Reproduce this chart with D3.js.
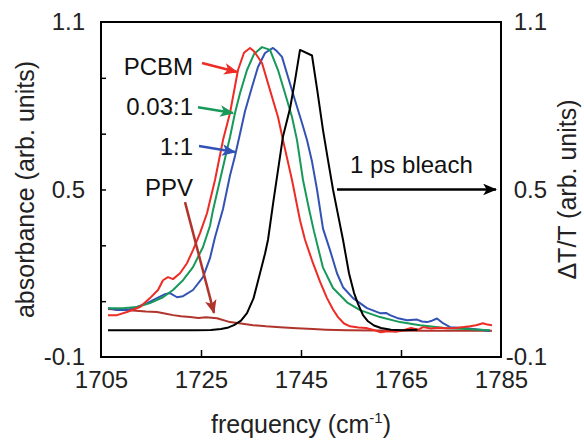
<!DOCTYPE html>
<html>
<head>
<meta charset="utf-8">
<script src="https://d3js.org/d3.v7.min.js"></script>
<style>
  body { margin: 0; background: #fff; }
  text { font-family: "Liberation Sans", Arial, sans-serif; }
</style>
</head>
<body>
<div id="chart"></div>
<script>

// spectra: [frequency (cm-1), value]
var pcbm = [[1706.4,0.05],[1708.2,0.05],[1710.2,0.061],[1712.8,0.079],[1714.8,0.111],[1716.4,0.14],
  [1717.4,0.175],[1718.4,0.186],[1719.4,0.179],[1720.8,0.2],[1722.2,0.236],[1723.4,0.283],[1724.8,0.344],
  [1726.2,0.415],[1727.8,0.534],[1729.4,0.677],[1730.8,0.774],[1732.4,0.928],[1733.6,0.99],[1734.8,1.007],
  [1735.6,0.995],[1737.2,0.953],[1738.8,0.856],[1740.4,0.76],[1741.4,0.677],[1743.2,0.534],[1744.8,0.39],
  [1745.8,0.32],[1747.4,0.236],[1748.8,0.17],[1750.2,0.111],[1751.4,0.07],[1752.4,0.043],[1753.6,0.02],
  [1754.8,0.01],[1756.5,0.006],[1758,0.004],[1759.5,-0.003],[1760.8,-0.011],[1762.5,-0.008],[1764,-0.01],
  [1765.5,-0.004],[1767,0.004],[1768.5,-0.002],[1769.4,0.007],[1771,0.002],[1772.5,0.005],[1774,0.003],
  [1776,0.004],[1778.8,0.01],[1780,0.014],[1781.4,0.021],[1782.3,0.016],[1783.2,0.014]];

var blend003 = [[1706.4,0.075],[1709.4,0.075],[1712.2,0.079],[1714.8,0.093],[1717.4,0.114],[1719.4,0.14],
  [1721.4,0.175],[1723.4,0.222],[1725.4,0.294],[1726.8,0.37],[1727.4,0.426],[1728.8,0.534],[1730.8,0.688],
  [1731.8,0.774],[1732.8,0.845],[1734.2,0.928],[1735.6,0.985],[1737.2,1.01],[1738.8,1.0],[1740.4,0.928],
  [1741.8,0.845],[1743.2,0.76],[1744.2,0.677],[1745.4,0.534],[1746.6,0.43],[1747.6,0.35],[1749.4,0.22],
  [1751.4,0.147],[1754.2,0.096],[1756.8,0.068],[1760.8,0.043],[1764.8,0.025],[1768.8,0.014],[1774.2,0.003],
  [1778,0.0],[1782.8,-0.004]];

var blend11 = [[1706.4,0.075],[1708.2,0.068],[1710.2,0.068],[1712.2,0.079],[1714.2,0.093],[1716.2,0.111],
  [1717.8,0.125],[1718.8,0.129],[1720.2,0.114],[1721.4,0.118],[1723.4,0.14],[1725.4,0.186],[1726.8,0.254],
  [1727.8,0.329],[1729.4,0.43],[1730.8,0.55],[1731.8,0.62],[1732.8,0.7],[1733.8,0.78],[1735.2,0.867],
  [1736.4,0.939],[1737.8,0.989],[1739.4,1.007],[1740.2,0.995],[1741.2,0.975],[1742.4,0.903],[1743.8,0.82],
  [1745.2,0.738],[1746.2,0.677],[1747.2,0.6],[1748.2,0.5],[1749.4,0.36],[1750.8,0.283],[1752.2,0.2],
  [1753.4,0.15],[1755.4,0.111],[1758.2,0.075],[1760.8,0.057],[1762,0.058],[1762.8,0.05],[1764.2,0.04],
  [1766.2,0.032],[1768.2,0.034],[1769.2,0.027],[1770.2,0.025],[1771.2,0.03],[1772.2,0.038],[1773.4,0.021],
  [1774.8,0.007],[1778.2,0.003],[1782.8,-0.007]];

var ppv = [[1706.4,0.072],[1708,0.07],[1710,0.068],[1712,0.066],[1714,0.063],[1716.2,0.061],[1718,0.055],
  [1719.4,0.05],[1721,0.046],[1722.8,0.043],[1724.5,0.04],[1726,0.042],[1728.2,0.039],[1730.8,0.025],
  [1733,0.02],[1735.4,0.014],[1738,0.01],[1740.8,0.007],[1744.2,0.003],[1747.4,0.0],[1750,-0.002],
  [1754.2,-0.004],[1760,-0.005],[1770,-0.006],[1783.2,-0.006]];

var bleach = [[1706.4,-0.004],[1715,-0.004],[1724,-0.004],[1727,-0.003],[1729,0.0],[1730.5,0.006],
  [1731.6,0.014],[1733,0.03],[1734.2,0.057],[1735.5,0.11],[1736.8,0.2],[1737.8,0.27],[1738.4,0.32],
  [1739.5,0.46],[1741.4,0.69],[1742.8,0.79],[1743.8,0.89],[1744.8,1.0],[1747.2,0.98],[1748.3,0.85],
  [1749.4,0.713],[1750.4,0.605],[1751.4,0.5],[1752.4,0.41],[1753.4,0.32],[1754.6,0.2],[1755.6,0.13],
  [1756.4,0.09],[1757.4,0.05],[1758.4,0.028],[1759.6,0.013],[1761,0.004],[1763,-0.002],[1765.5,-0.004],
  [1768.3,-0.002]];

var xTickLabels = [1705, 1725, 1745, 1765, 1785];
var xInnerTicks = [1725, 1745, 1765];
var yTickLabels = [-0.1, 0.5, 1.1];
var yInnerTicks = [0.1, 0.3, 0.5, 0.7, 0.9];

// labels with arrows, in data units: text position, arrow start, arrow end
var notes = [
  {text: "PCBM",   color: "#ee2b24", tx: 1723.4, ty: 0.91,  x1: 1725.2, y1: 0.953, x2: 1732.2, y2: 0.921},
  {text: "0.03:1", color: "#17995a", tx: 1723.4, ty: 0.767, x1: 1724.4, y1: 0.795, x2: 1731.4, y2: 0.774},
  {text: "1:1",    color: "#3253b3", tx: 1723.4, ty: 0.624, x1: 1724.6, y1: 0.656, x2: 1731.8, y2: 0.634},
  {text: "PPV",    color: "#b0342b", tx: 1723.4, ty: 0.477, x1: 1721.8, y1: 0.455, x2: 1727.6, y2: 0.058}
];

var width = 584, height = 445;
var margin = {top: 22, right: 83, bottom: 88, left: 101};

var svg = d3.select("#chart")
  .append("svg")
    .attr("width", width)
    .attr("height", height);

var x = d3.scaleLinear()
  .domain([1705, 1785])
  .range([margin.left, width - margin.right]);
var y = d3.scaleLinear()
  .domain([-0.1, 1.1])
  .range([height - margin.bottom, margin.top]);

// markers for arrow heads
var defs = svg.append("defs");
function marker(id, color) {
  defs.append("marker")
    .attr("id", id)
    .attr("viewBox", "0 0 12 10")
    .attr("refX", 11).attr("refY", 5)
    .attr("markerWidth", 14).attr("markerHeight", 12)
    .attr("markerUnits", "userSpaceOnUse")
    .attr("orient", "auto")
    .append("path")
      .attr("d", "M0,0 L12,5 L0,10 L3,5 Z")
      .attr("fill", color);
}
notes.forEach(function(n, i) { marker("head" + i, n.color); });
marker("headBlack", "#000");

var line = d3.line()
  .x(function(d) { return x(d[0]); })
  .y(function(d) { return y(d[1]); });

var series = [
  {data: ppv, color: "#b0342b"},
  {data: blend11, color: "#3253b3"},
  {data: blend003, color: "#17995a"},
  {data: pcbm, color: "#ee2b24"},
  {data: bleach, color: "#000"}
];
series.forEach(function(s) {
  svg.append("path")
    .datum(s.data)
    .attr("fill", "none")
    .attr("stroke", s.color)
    .attr("stroke-width", 2)
    .attr("stroke-linejoin", "round")
    .attr("d", line);
});

// frame
svg.append("rect")
  .attr("x", x(1705)).attr("y", y(1.1))
  .attr("width", x(1785) - x(1705))
  .attr("height", y(-0.1) - y(1.1))
  .attr("fill", "none")
  .attr("stroke", "#000")
  .attr("stroke-width", 2);

// inner ticks
var gxTicks = svg.append("g")
  .attr("transform", "translate(0," + y(-0.1) + ")")
  .call(d3.axisBottom(x).tickValues(xInnerTicks).tickSize(-7).tickFormat(""));
var gyTicks = svg.append("g")
  .attr("transform", "translate(" + x(1705) + ",0)")
  .call(d3.axisLeft(y).tickValues(yInnerTicks).tickSize(-5).tickFormat(""));
[gxTicks, gyTicks].forEach(function(g) {
  g.select(".domain").remove();
  g.selectAll("line").attr("stroke-width", 1.5);
});

// tick labels
var fmt = function(d) { return d.toFixed(1); };
var gx = svg.append("g")
  .attr("transform", "translate(0," + y(-0.1) + ")")
  .call(d3.axisBottom(x).tickValues(xTickLabels).tickFormat(d3.format("d")).tickSize(0).tickPadding(14));
var gyl = svg.append("g")
  .attr("transform", "translate(" + x(1705) + ",0)")
  .call(d3.axisLeft(y).tickValues(yTickLabels).tickFormat(fmt).tickSize(0).tickPadding(16));
var gyr = svg.append("g")
  .attr("transform", "translate(" + x(1785) + ",0)")
  .call(d3.axisRight(y).tickValues(yTickLabels).tickFormat(fmt).tickSize(0));
gyr.selectAll("text").attr("text-anchor", "end").attr("x", 46);
[gx, gyl, gyr].forEach(function(g) {
  g.select(".domain").remove();
  g.selectAll("text")
    .attr("font-family", "'Liberation Sans', Arial, sans-serif")
    .attr("font-size", 24)
    .attr("fill", "#222");
});

// axis titles
var xt = svg.append("text")
  .attr("x", (x(1705) + x(1785)) / 2)
  .attr("y", 433)
  .attr("text-anchor", "middle")
  .attr("font-size", 25)
  .attr("fill", "#222")
  .text("frequency (cm");
xt.append("tspan").attr("font-size", 15).attr("dy", -10).text("-1");
xt.append("tspan").attr("dy", 10).text(")");

svg.append("text")
  .attr("transform", "translate(34," + y(0.5) + ") rotate(-90)")
  .attr("text-anchor", "middle")
  .attr("font-size", 25)
  .attr("fill", "#222")
  .text("absorbance (arb. units)");

svg.append("text")
  .attr("transform", "translate(576," + y(0.5) + ") rotate(-90)")
  .attr("text-anchor", "middle")
  .attr("font-size", 25)
  .attr("fill", "#222")
  .text("\u0394T/T (arb. units)");

// labels with arrows
notes.forEach(function(n, i) {
  svg.append("text")
    .attr("x", x(n.tx)).attr("y", y(n.ty))
    .attr("text-anchor", "end")
    .attr("font-size", 24)
    .attr("fill", "#111")
    .text(n.text);
  svg.append("line")
    .attr("x1", x(n.x1)).attr("y1", y(n.y1))
    .attr("x2", x(n.x2)).attr("y2", y(n.y2))
    .attr("stroke", n.color)
    .attr("stroke-width", 2.5)
    .attr("marker-end", "url(#head" + i + ")");
});

// 1 ps bleach label
svg.append("text")
  .attr("x", x(1754.8)).attr("y", y(0.559))
  .attr("font-size", 24)
  .attr("fill", "#111")
  .text("1 ps bleach");
svg.append("line")
  .attr("x1", x(1752.2)).attr("y1", y(0.5))
  .attr("x2", x(1784)).attr("y2", y(0.5))
  .attr("stroke", "#000")
  .attr("stroke-width", 2.5)
  .attr("marker-end", "url(#headBlack)");

</script>
</body>
</html>
